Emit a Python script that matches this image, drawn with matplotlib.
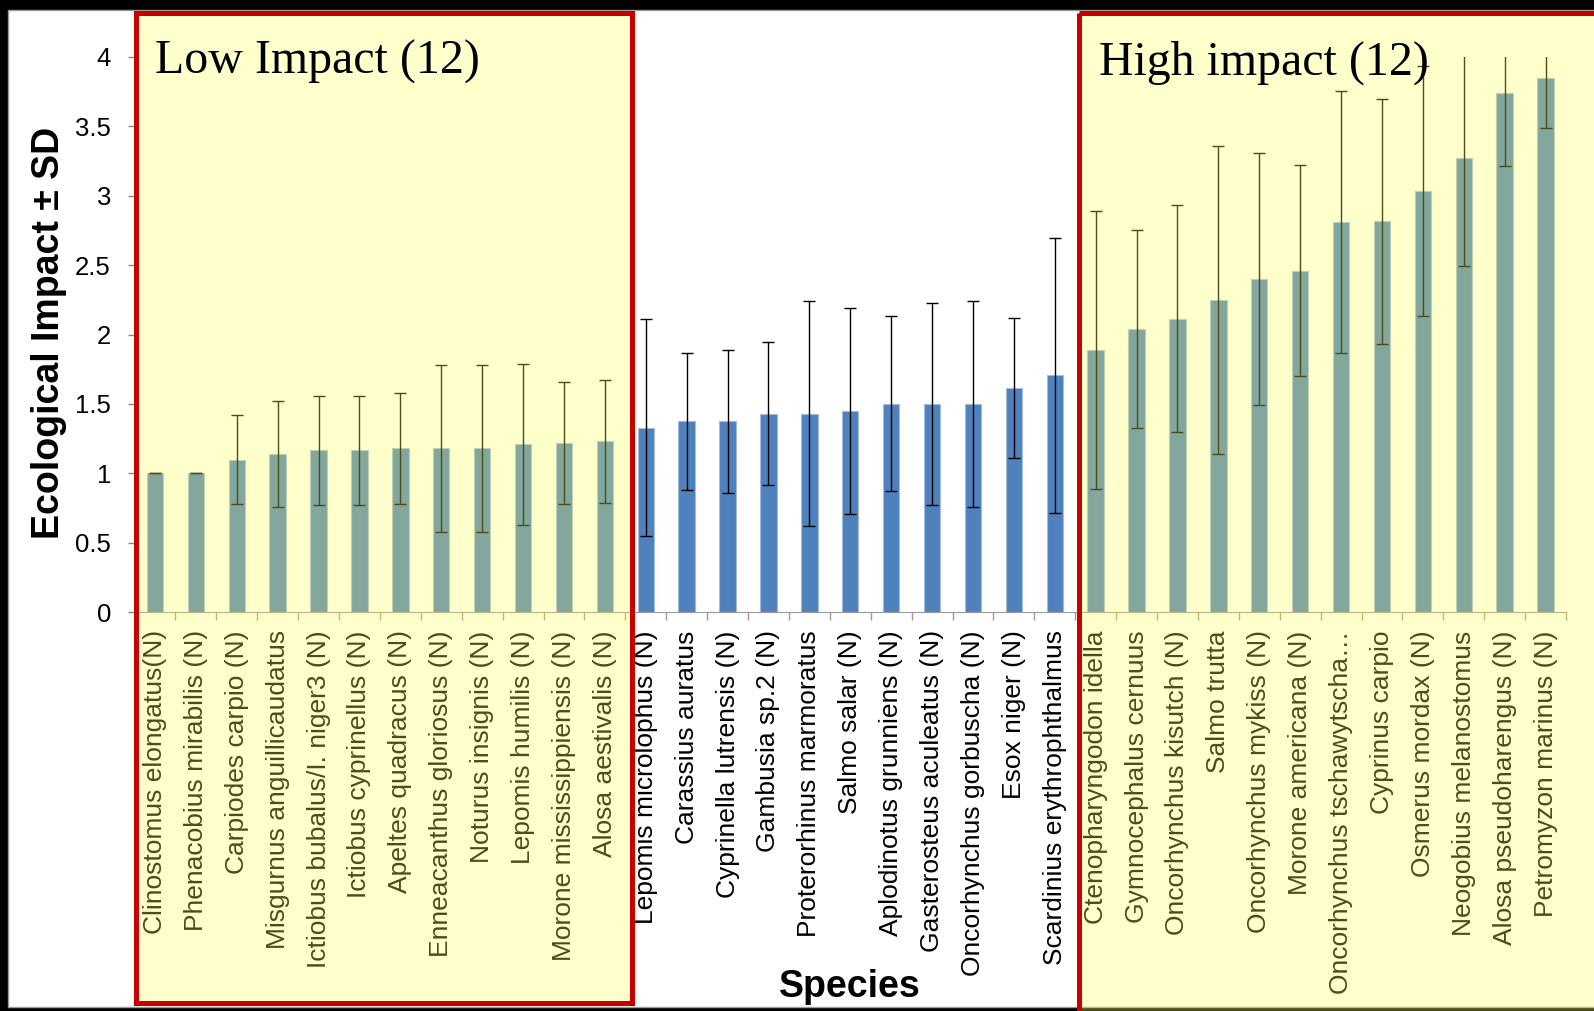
import numpy as np
import matplotlib
matplotlib.use("Agg")
import matplotlib.pyplot as plt
from matplotlib.patches import Rectangle
from matplotlib.ticker import FixedLocator

# ---- data -------------------------------------------------------------
low_species = [
    "Clinostomus elongatus(N)", "Phenacobius mirabilis (N)", "Carpiodes carpio (N)",
    "Misgurnus anguillicaudatus", "Ictiobus bubalus/I. niger3 (N)", "Ictiobus cyprinellus (N)",
    "Apeltes quadracus (N)", "Enneacanthus gloriosus (N)", "Noturus insignis (N)",
    "Lepomis humilis (N)", "Morone mississippiensis (N)", "Alosa aestivalis (N)",
]
low_mean = [1.00, 1.00, 1.10, 1.14, 1.165, 1.165, 1.18, 1.18, 1.18, 1.21, 1.22, 1.23]
low_sd = [0.0, 0.0, 0.32, 0.38, 0.39, 0.39, 0.40, 0.60, 0.60, 0.58, 0.44, 0.44]

mid_species = [
    "Lepomis microlophus (N)", "Carassius auratus", "Cyprinella lutrensis (N)",
    "Gambusia sp.2 (N)", "Proterorhinus marmoratus", "Salmo salar (N)",
    "Aplodinotus grunniens (N)", "Gasterosteus aculeatus (N)", "Oncorhynchus gorbuscha (N)",
    "Esox niger (N)", "Scardinius erythrophthalmus",
]
mid_mean = [1.33, 1.375, 1.375, 1.43, 1.43, 1.45, 1.50, 1.50, 1.50, 1.615, 1.705]
mid_sd = [0.78, 0.495, 0.515, 0.515, 0.81, 0.74, 0.63, 0.73, 0.74, 0.505, 0.99]

high_species = [
    "Ctenopharyngodon idella", "Gymnocephalus cernuus", "Oncorhynchus kisutch (N)",
    "Salmo trutta", "Oncorhynchus mykiss (N)", "Morone americana (N)",
    "Oncorhynchus tschawytscha\u2026", "Cyprinus carpio", "Osmerus mordax (N)",
    "Neogobius melanostomus", "Alosa pseudoharengus (N)", "Petromyzon marinus (N)",
]
high_mean = [1.89, 2.04, 2.115, 2.25, 2.40, 2.46, 2.81, 2.815, 3.035, 3.27, 3.74, 3.85]
high_sd = [1.00, 0.71, 0.82, 1.11, 0.91, 0.76, 0.94, 0.88, 0.90, 0.78, 0.53, 0.36]

yticks = [0, 0.5, 1, 1.5, 2, 2.5, 3, 3.5, 4]
ytick_labels = ["0", "0.5", "1", "1.5", "2", "2.5", "3", "3.5", "4"]

species = low_species + mid_species + high_species
means = np.array(low_mean + mid_mean + high_mean)
sds = np.array(low_sd + mid_sd + high_sd)

# ---- figure -----------------------------------------------------------
W, H = 1594, 1011
DPI = 100
fig = plt.figure(figsize=(W / DPI, H / DPI), dpi=DPI, facecolor="black")
plt.rcParams["font.family"] = ["Liberation Sans", "DejaVu Sans"]

# slide background
bg = fig.add_axes([0, 0, 1, 1], zorder=0)
bg.set_xlim(0, W)
bg.set_ylim(H, 0)
bg.axis("off")
bg.add_patch(Rectangle((8, 10), W, 997, facecolor="white",
                       edgecolor="#9a9a9a", linewidth=1.0))

# chart axes
x0, x1 = 134.5, 1566.0
y0, y4 = 612.3, 56.7
ax = fig.add_axes([x0 / W, 1 - y0 / H, (x1 - x0) / W, (y0 - y4) / H], zorder=1)
ax.set_facecolor("none")

x = np.arange(len(species))
ax.bar(x, means, width=0.4, color="#4F81BD", edgecolor="#A3BCDD",
       linewidth=0.8, zorder=2)
ax.errorbar(x, means, yerr=sds, fmt="none", ecolor="black", elinewidth=1.0,
            capsize=4.3, capthick=1.0, zorder=3)

ax.set_xlim(-0.5, len(species) - 0.5)
ax.set_ylim(0, 4)
ax.set_yticks(yticks)
ax.set_yticklabels(ytick_labels, fontsize=18.5, color="black")
ax.tick_params(axis="y", length=5, width=1, color="#888888", pad=12)

ax.set_xticks(x)
ax.set_xticklabels(species, rotation=90, fontsize=19, color="black",
                   ha="center", va="top")
ax.tick_params(axis="x", which="major", length=0, pad=13)
ax.xaxis.set_minor_locator(FixedLocator(np.arange(-0.5, len(species), 1)))
ax.tick_params(axis="x", which="minor", length=6, width=1, color="#9a9a9a")

for side in ("top", "right"):
    ax.spines[side].set_visible(False)
ax.spines["bottom"].set_color("#9a9a9a")
ax.spines["left"].set_color("#888888")

# overlay: highlighted groups and annotations
ov = fig.add_axes([0, 0, 1, 1], zorder=10)
ov.set_xlim(0, W)
ov.set_ylim(H, 0)
ov.axis("off")
ov.patch.set_alpha(0)

boxes = [(135.8, 12.5, 632.0 - 135.8, 1003.0 - 12.5),
         (1079.5, 12.5, 600.0, 1020.0)]
for bx, by, bw, bh in boxes:
    ov.add_patch(Rectangle((bx, by), bw, bh, facecolor="#FFFF55",
                           alpha=0.30, edgecolor="none", zorder=1))
    ov.add_patch(Rectangle((bx, by), bw, bh, facecolor="none",
                           edgecolor="#C80000", linewidth=3.6, zorder=2))

ov.text(155, 74, "Low Impact (12)", fontsize=34.5, family="Liberation Serif",
        color="black", ha="left", va="baseline", zorder=5)
ov.text(1099, 75, "High impact (12)", fontsize=34.5, family="Liberation Serif",
        color="black", ha="left", va="baseline", zorder=5)

ov.text(59, 333, "Ecological Impact \u00b1 SD", fontsize=27, fontweight="bold",
        rotation=90, rotation_mode="anchor", ha="center", va="baseline",
        color="black", zorder=5)
ov.text(850, 997, "Species", fontsize=27, fontweight="bold",
        ha="center", va="baseline", color="black", zorder=5)

fig.savefig("out.png", dpi=DPI, facecolor="black")
